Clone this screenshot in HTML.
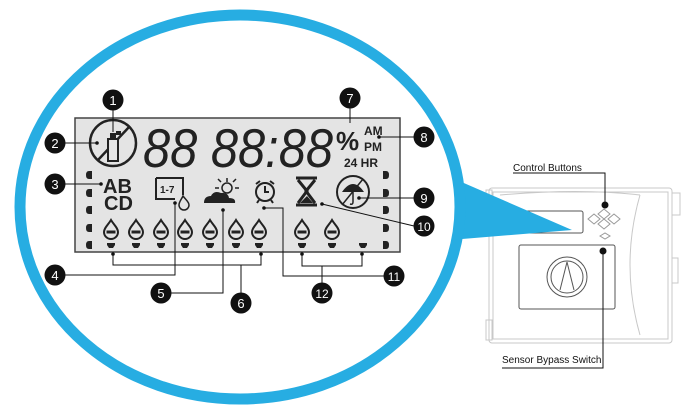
<!DOCTYPE html>
<html><head><meta charset="utf-8"><style>
html,body{margin:0;padding:0;background:#fff;width:700px;height:420px;overflow:hidden}
svg{display:block}
text{font-family:"Liberation Sans",sans-serif}
</style></head><body>
<svg width="700" height="420" viewBox="0 0 700 420" xmlns="http://www.w3.org/2000/svg">
<defs>
<g id="drop"><path d="M0,-9 C3,-4 7,-1 7,3 A7,7 0 0 1 -7,3 C-7,-1 -3,-4 0,-9 Z" fill="none" stroke="#222" stroke-width="2"/><rect x="-4.5" y="1.5" width="9" height="3" fill="#222"/></g>
<path id="bm" d="M-4,-2 H4 V0 L2,3 H-2 L-4,0 Z" fill="#222"/>
<path id="lm" d="M3,-4 H0 Q-3,-4 -3,0 Q-3,4 0,4 H3 Z" fill="#222"/>
<path id="rm" d="M-3,-4 H0 Q3,-4 3,0 Q3,4 0,4 H-3 Z" fill="#222"/>
<g id="nc"><circle r="10.5" fill="#111"/></g>
</defs>
<!-- controller -->
<g fill="none" stroke="#c8c8c8" stroke-width="1">
<rect x="489" y="188" width="183" height="155" rx="3"/>
<rect x="493" y="192" width="175" height="147"/>
<path d="M500,195 Q580,188 640,195 M640,195 Q620,265 640,335"/>
<rect x="672" y="193" width="8" height="22"/>
<rect x="672" y="258" width="6" height="25"/>
<rect x="486" y="320" width="6" height="20"/>
<rect x="486" y="190" width="6" height="20"/>
</g>
<g fill="none" stroke="#555" stroke-width="1">
<rect x="523" y="211" width="60" height="22" rx="2"/>
<rect x="519" y="245" width="96" height="64" rx="2"/>
<circle cx="567" cy="277" r="20"/><circle cx="567" cy="277" r="16"/>
<path d="M560,290 L567,262 L574,290"/>
<path d="M598,214 l6,-5 l6,5 l-6,5z M588,219 l6,-5 l6,5 l-6,5z M608,219 l6,-5 l6,5 l-6,5z M598,224 l6,-5 l6,5 l-6,5z M600,236 l5,-3 l5,3 l-5,3z" stroke="#999"/>
</g>
<!-- blue tail -->
<polygon points="450,177 572,230 450,240" fill="#27ade2"/>
<ellipse cx="240" cy="207" rx="220" ry="192" fill="#fff" stroke="#27ade2" stroke-width="11"/>
<!-- controller labels -->
<text x="513" y="171" font-size="10" fill="#111">Control Buttons</text>
<path d="M513,173 H605 V205" fill="none" stroke="#111" stroke-width="1"/>
<circle cx="605" cy="205" r="3.5" fill="#111"/>
<circle cx="603" cy="251" r="3.5" fill="#111"/>
<path d="M603,251 V368 H502" fill="none" stroke="#111" stroke-width="1"/>
<text x="502" y="363" font-size="10" fill="#111">Sensor Bypass Switch</text>
<!-- LCD -->
<rect x="75" y="118" width="325" height="134" fill="#e4e4e4" stroke="#444" stroke-width="1.5"/>
<!-- icon 1/2 -->
<circle cx="113" cy="143" r="23" fill="none" stroke="#222" stroke-width="2.5"/>
<line x1="98" y1="160" x2="130" y2="126" stroke="#222" stroke-width="2.5"/>
<rect x="108" y="139" width="10" height="22" fill="#e4e4e4" stroke="#222" stroke-width="2"/>
<rect x="110" y="133" width="6" height="7" fill="#222"/>
<rect x="116" y="131" width="5" height="4" fill="#222"/>
<!-- digits -->
<text x="143" y="167" font-size="55" font-style="italic" fill="#222" textLength="190" lengthAdjust="spacingAndGlyphs">88 88:88</text>
<text x="336" y="150" font-size="26" font-weight="bold" fill="#222">%</text>
<text x="364" y="135" font-size="12" font-weight="bold" fill="#222">AM</text>
<text x="364" y="151" font-size="12" font-weight="bold" fill="#222">PM</text>
<text x="344" y="167" font-size="12" font-weight="bold" fill="#222">24 HR</text>
<!-- ABCD -->
<text x="103" y="193" font-size="20" font-weight="bold" fill="#222">AB</text>
<text x="104" y="210" font-size="20" font-weight="bold" fill="#222">CD</text>
<!-- calendar -->
<path d="M156,178 H183 V195 M156,178 V199 H175" fill="none" stroke="#222" stroke-width="2"/>
<text x="160" y="193" font-size="10" font-weight="bold" fill="#222">1-7</text>
<path d="M183,196 C186,200 189,202 189,205 A5,5 0 0 1 179,205 C179,202 181,200 183,196Z" fill="none" stroke="#222" stroke-width="1.5"/>
<!-- sun cloud -->
<circle cx="227" cy="188" r="5" fill="none" stroke="#222" stroke-width="1.5"/>
<path d="M227,178v4 M219,188h-4 M235,188h4 M221,182l-3,-3 M233,182l3,-3" stroke="#222" stroke-width="1.5"/>
<path d="M204,203 Q204,196 211,196 Q214,190 221,193 Q228,192 229,198 Q236,198 235,203 Z" fill="#222"/>
<!-- alarm -->
<circle cx="265" cy="192" r="9" fill="none" stroke="#222" stroke-width="2"/>
<path d="M265,186v6h4 M256,184 l4,-3 M274,184 l-4,-3 M259,200 l-2,3 M271,200 l2,3" stroke="#222" stroke-width="2" fill="none"/>
<!-- hourglass -->
<path d="M296,178 H317 M296,205 H317 M298,180 L307,191 L298,203 M315,180 L306,191 L315,203" stroke="#222" stroke-width="3" fill="none"/>
<path d="M300,203 L307,196 L313,203Z" fill="#222"/>
<!-- umbrella -->
<circle cx="353" cy="192" r="16" fill="none" stroke="#222" stroke-width="2"/>
<path d="M342,192 Q353,176 364,192 Z" fill="#222"/>
<path d="M353,192 V202 Q353,205 350,204" stroke="#222" stroke-width="1.5" fill="none"/>
<line x1="342" y1="205" x2="363" y2="179" stroke="#222" stroke-width="1.5"/>
<!-- drops -->
<use href="#drop" x="111" y="229"/><use href="#drop" x="136" y="229"/><use href="#drop" x="161" y="229"/><use href="#drop" x="185" y="229"/><use href="#drop" x="210" y="229"/><use href="#drop" x="236" y="229"/><use href="#drop" x="259" y="229"/><use href="#drop" x="302" y="229"/><use href="#drop" x="332" y="229"/>
<use href="#bm" x="111" y="245"/><use href="#bm" x="136" y="245"/><use href="#bm" x="161" y="245"/><use href="#bm" x="185" y="245"/><use href="#bm" x="210" y="245"/><use href="#bm" x="236" y="245"/><use href="#bm" x="259" y="245"/><use href="#bm" x="302" y="245"/><use href="#bm" x="332" y="245"/><use href="#bm" x="363" y="245"/>
<use href="#lm" x="89" y="175"/><use href="#lm" x="89" y="193"/><use href="#lm" x="89" y="210"/><use href="#lm" x="89" y="228"/><use href="#lm" x="89" y="245"/>
<use href="#rm" x="386" y="175"/><use href="#rm" x="386" y="193"/><use href="#rm" x="386" y="210"/><use href="#rm" x="386" y="228"/><use href="#rm" x="386" y="245"/>
<!-- leaders -->
<g stroke="#111" stroke-width="1" fill="none">
<path d="M113,110 V132"/>
<path d="M65,143 H97"/>
<path d="M65,184 H101"/>
<path d="M65,275 H175 V203"/>
<path d="M171,293 H223 V210"/>
<path d="M113,254 V265 H261 V254 M241,265 V293"/>
<path d="M350,108 V123"/>
<path d="M414,137 H379"/>
<path d="M414,198 H359"/>
<path d="M414,226 L322,204"/>
<path d="M384,276 H283 V208 H264"/>
<path d="M302,254 V266 H362 V254 M322,266 V283"/>
</g>
<g fill="#111">
<circle cx="97" cy="143" r="1.8"/><circle cx="101" cy="184" r="1.8"/><circle cx="175" cy="203" r="1.8"/><circle cx="223" cy="210" r="1.8"/>
<circle cx="113" cy="254" r="1.8"/><circle cx="261" cy="254" r="1.8"/><circle cx="379" cy="137" r="1.8"/><circle cx="359" cy="198" r="1.8"/>
<circle cx="322" cy="204" r="1.8"/><circle cx="264" cy="208" r="1.8"/><circle cx="302" cy="254" r="1.8"/><circle cx="362" cy="254" r="1.8"/>
</g>
<!-- number badges -->
<g font-size="13" fill="#fff" text-anchor="middle">
<use href="#nc" x="113" y="100"/><text x="113" y="105">1</text>
<use href="#nc" x="55" y="143"/><text x="55" y="148">2</text>
<use href="#nc" x="55" y="184"/><text x="55" y="189">3</text>
<use href="#nc" x="55" y="275"/><text x="55" y="280">4</text>
<use href="#nc" x="161" y="293"/><text x="161" y="298">5</text>
<use href="#nc" x="241" y="303"/><text x="241" y="308">6</text>
<use href="#nc" x="350" y="98"/><text x="350" y="103">7</text>
<use href="#nc" x="424" y="137"/><text x="424" y="142">8</text>
<use href="#nc" x="424" y="198"/><text x="424" y="203">9</text>
<use href="#nc" x="424" y="226"/><text x="424" y="231" font-size="12">10</text>
<use href="#nc" x="394" y="276"/><text x="394" y="281" font-size="12">11</text>
<use href="#nc" x="322" y="293"/><text x="322" y="298" font-size="12">12</text>
</g>
</svg>
</body></html>
